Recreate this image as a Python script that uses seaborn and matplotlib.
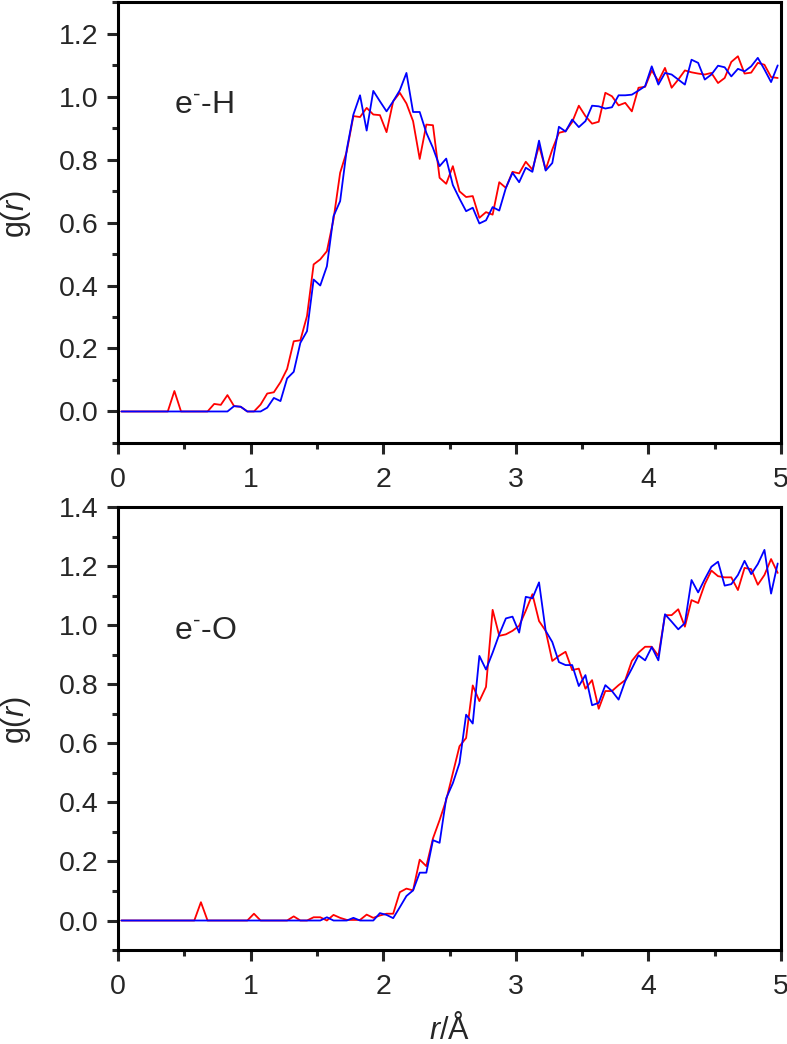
# radial distribution functions g(r) for e- - H and e- - O
import numpy as np
import pandas as pd
import matplotlib
matplotlib.use("Agg")
import matplotlib.pyplot as plt
import seaborn as sns
from matplotlib.ticker import MultipleLocator

# bin centres in Angstrom (0.05 A bins)
r = np.round(0.025 + 0.05 * np.arange(100), 3)

gH_red = [0, 0, 0, 0, 0, 0, 0, 0, 0.065, 0, 0, 0, 0, 0,
          0.024, 0.021, 0.052, 0.017, 0.015, 0, 0, 0.022, 0.057, 0.061,
          0.093, 0.135, 0.223, 0.226, 0.303, 0.467, 0.483, 0.509, 0.61, 0.758,
          0.826, 0.938, 0.935, 0.964, 0.943, 0.941, 0.887, 0.985, 1.012, 0.978,
          0.922, 0.802, 0.911, 0.909, 0.742, 0.723, 0.779, 0.699, 0.681, 0.684,
          0.615, 0.633, 0.625, 0.728, 0.710, 0.761, 0.756, 0.793, 0.768, 0.844,
          0.768, 0.832, 0.885, 0.890, 0.919, 0.971, 0.938, 0.914, 0.920, 1.012,
          1.001, 0.972, 0.980, 0.953, 1.028, 1.031, 1.083, 1.049, 1.091, 1.028,
          1.054, 1.083, 1.077, 1.073, 1.070, 1.075, 1.043, 1.059, 1.110, 1.128,
          1.073, 1.076, 1.107, 1.101, 1.062, 1.059]

gH_blue = [0, 0, 0, 0, 0, 0, 0, 0, 0, 0, 0, 0, 0, 0, 0, 0, 0,
           0.017, 0.015, 0, 0, 0, 0.012, 0.043, 0.033, 0.105, 0.126, 0.218,
           0.255, 0.419, 0.40, 0.461, 0.62, 0.668, 0.832, 0.943, 1.004, 0.892,
           1.018, 0.985, 0.953, 0.985, 1.020, 1.075, 0.951, 0.951, 0.885, 0.837,
           0.779, 0.803, 0.719, 0.676, 0.636, 0.647, 0.597, 0.607, 0.649, 0.638,
           0.710, 0.758, 0.728, 0.774, 0.761, 0.860, 0.765, 0.789, 0.904, 0.889,
           0.927, 0.903, 0.922, 0.971, 0.969, 0.962, 0.966, 1.004, 1.004, 1.006,
           1.019, 1.033, 1.096, 1.038, 1.075, 1.070, 1.054, 1.038, 1.117, 1.107,
           1.054, 1.070, 1.098, 1.093, 1.064, 1.088, 1.080, 1.096, 1.123, 1.086,
           1.046, 1.099]

gO_red = [0, 0, 0, 0, 0, 0, 0, 0, 0, 0, 0, 0, 0.062, 0, 0, 0, 0, 0, 0, 0,
          0.023, 0, 0, 0, 0, 0, 0.014, 0, 0,
          0.011, 0.011, 0, 0.019, 0.009, 0.002, 0.002, 0.002, 0.020, 0.009,
          0.017, 0.023, 0.023, 0.096, 0.108, 0.102, 0.206, 0.184, 0.278, 0.340,
          0.408, 0.499, 0.590, 0.618, 0.796, 0.743, 0.791, 1.052, 0.964, 0.969,
          0.981, 0.998, 1.049, 1.105, 1.014, 0.981, 0.879, 0.896, 0.910, 0.848,
          0.853, 0.785, 0.814, 0.717, 0.777, 0.777, 0.797, 0.814, 0.879, 0.907,
          0.927, 0.927, 0.896, 1.034, 1.034, 1.054, 0.995, 1.085, 1.075, 1.139,
          1.185, 1.166, 1.162, 1.162, 1.119, 1.194, 1.190, 1.137, 1.170, 1.224,
          1.177]

gO_blue = [0] * 31 + [
           0.011, 0, 0, 0, 0.009, 0, 0, 0, 0.025, 0.019, 0.008, 0.045, 0.083,
           0.102, 0.162, 0.162, 0.272, 0.263, 0.414, 0.465, 0.533, 0.697, 0.667,
           0.896, 0.850, 0.907, 0.969, 1.023, 1.029, 0.975, 1.096, 1.091, 1.145,
           0.981, 0.943, 0.875, 0.865, 0.865, 0.794, 0.831, 0.729, 0.737, 0.797,
           0.777, 0.748, 0.811, 0.853, 0.898, 0.881, 0.926, 0.881, 1.037, 1.012,
           0.986, 1.007, 1.153, 1.111, 1.156, 1.198, 1.215, 1.134, 1.139, 1.170,
           1.218, 1.173, 1.207, 1.255, 1.107, 1.209]

labels = ["e$^{‐}$-H", "e$^{‐}$-O"]
ylims = [(-0.1, 1.3), (-0.1, 1.4)]
colors = ["#FF0000", "#0000FF"]

sns.set_style("ticks")
plt.rcParams["font.family"] = ["Liberation Sans", "DejaVu Sans"]
plt.rcParams["mathtext.fontset"] = "custom"
plt.rcParams["mathtext.rm"] = "Liberation Sans"
plt.rcParams["mathtext.it"] = "Liberation Sans:italic"
plt.rcParams["axes.linewidth"] = 2.2

fig = plt.figure(figsize=(7.87, 10.44), dpi=100)
ax_top = fig.add_axes([0.150, 0.5757, 0.8424, 0.4223])
ax_bot = fig.add_axes([0.150, 0.0900, 0.8424, 0.4243])

panels = [(ax_top, gH_red, gH_blue), (ax_bot, gO_red, gO_blue)]

for i, (ax, g_red, g_blue) in enumerate(panels):
    df = pd.DataFrame({
        "r": np.concatenate([r, r]),
        "g": np.concatenate([g_red, g_blue]),
        "set": ["red"] * len(r) + ["blue"] * len(r),
    })
    sns.lineplot(data=df, x="r", y="g", hue="set", palette=colors,
                 linewidth=1.3, legend=False, sort=False, errorbar=None, ax=ax)

    ax.set_xlim(0, 5)
    ax.set_ylim(*ylims[i])
    ax.xaxis.set_major_locator(MultipleLocator(1))
    ax.xaxis.set_minor_locator(MultipleLocator(0.5))
    ax.yaxis.set_major_locator(MultipleLocator(0.2))
    ax.yaxis.set_minor_locator(MultipleLocator(0.1))
    ax.yaxis.set_major_formatter(matplotlib.ticker.FormatStrFormatter("%.1f"))
    ax.tick_params(which="major", direction="out", length=8, width=2.2,
                   labelsize=20.5, pad=6)
    ax.tick_params(which="major", axis="x", pad=9)
    ax.tick_params(which="minor", direction="out", length=4.5, width=2.2)
    for s in ax.spines.values():
        s.set_linewidth(2.2)
        s.set_color("black")

    ax.set_ylabel("g($\\mathit{r}$)", fontsize=22)
    ax.yaxis.set_label_coords(-0.128, 0.52)
    ax.set_xlabel("")
    ax.text(0.084, [0.767, 0.72][i], labels[i], transform=ax.transAxes,
            fontsize=23, ha="left", va="center")

ax_bot.set_xlabel("$\\mathit{r}$/Å", fontsize=22, labelpad=10)

fig.savefig("out.png", dpi=100)
